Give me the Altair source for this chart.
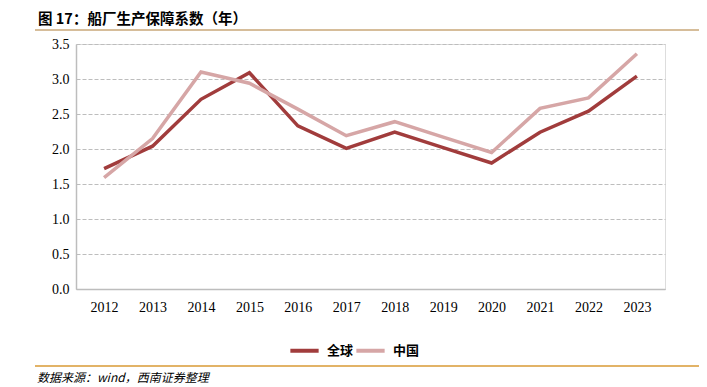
import altair as alt
import pandas as pd

years = ["2012", "2013", "2014", "2015", "2016", "2017", "2018", "2019", "2020", "2021", "2022", "2023"]
global_vals = [1.72, 2.04, 2.71, 3.09, 2.33, 2.01, 2.24, 2.02, 1.80, 2.24, 2.54, 3.04]
china_vals = [1.59, 2.15, 3.10, 2.94, 2.57, 2.19, 2.39, 2.17, 1.95, 2.58, 2.73, 3.36]
series_names = ["全球", "中国"]
series_colors = ["#A13C3C", "#D6A6A6"]
y_ticks = [0.0, 0.5, 1.0, 1.5, 2.0, 2.5, 3.0, 3.5]
title_text = "图 17：船厂生产保障系数（年）"
source_text = "数据来源：wind，西南证券整理"

rows = []
for y, g, c in zip(years, global_vals, china_vals):
    rows.append({"year": y, "series": series_names[0], "value": g})
    rows.append({"year": y, "series": series_names[1], "value": c})
df = pd.DataFrame(rows)

W, H = 589, 245

lines = alt.Chart(df).mark_line(strokeWidth=3.5).encode(
    x=alt.X("year:O", sort=years,
            scale=alt.Scale(type="point", padding=0.58),
            axis=alt.Axis(title=None, labelAngle=0, ticks=False, domain=True,
                          domainColor="#BDBDBD", domainWidth=1.5,
                          labelFont="Liberation Serif", labelFontSize=14,
                          labelColor="#000000", labelPadding=11, grid=False)),
    y=alt.Y("value:Q", scale=alt.Scale(domain=[0, 3.5], nice=False),
            axis=alt.Axis(title=None, values=y_ticks, format=".1f", ticks=False,
                          domain=True, domainColor="#BDBDBD", domainWidth=1.5,
                          labelFont="Liberation Serif", labelFontSize=14,
                          labelColor="#000000", labelPadding=7,
                          grid=True, gridColor="#BDBDBD", gridDash=[4, 2],
                          gridWidth=1.2)),
    color=alt.Color("series:N", sort=series_names,
                    scale=alt.Scale(domain=series_names, range=series_colors),
                    legend=alt.Legend(title=None, orient="none", direction="horizontal",
                                      legendX=212, legendY=290,
                                      symbolType="stroke", symbolStrokeWidth=4,
                                      symbolSize=800, labelFont="Noto Sans CJK SC",
                                      labelFontSize=13, labelFontWeight="bold",
                                      labelColor="#000000", columnPadding=-6,
                                      labelOffset=6)),
)

title = alt.Chart(pd.DataFrame({"t": [title_text]})).mark_text(
    align="left", baseline="middle", font="Noto Sans CJK SC",
    fontSize=14.5, fontWeight="bold", color="#000000"
).encode(x=alt.value(-38), y=alt.value(-24), text="t:N")

top_rule = alt.Chart(pd.DataFrame({"a": [0]})).mark_rule(
    color="#C9A778", strokeWidth=1.5
).encode(x=alt.value(-41), x2=alt.value(624), y=alt.value(-14))

bottom_rule = alt.Chart(pd.DataFrame({"a": [0]})).mark_rule(
    color="#D89A35", strokeWidth=1.5
).encode(x=alt.value(-41), x2=alt.value(624), y=alt.value(322))

source = alt.Chart(pd.DataFrame({"t": [source_text]})).mark_text(
    align="left", baseline="middle", font="Noto Sans CJK SC",
    fontSize=12, fontStyle="italic", color="#000000"
).encode(x=alt.value(-39), y=alt.value(334), text="t:N")

chart = alt.layer(lines, title, top_rule, bottom_rule, source).properties(
    width=W, height=H,
    autosize=alt.AutoSizeParams(type="none"),
    padding={"left": 68, "top": 36, "right": 34, "bottom": 98},
).configure_view(stroke=None).configure(background="#FFFFFF")

chart.save("out.html", embed_options={"renderer": "svg", "actions": False})
